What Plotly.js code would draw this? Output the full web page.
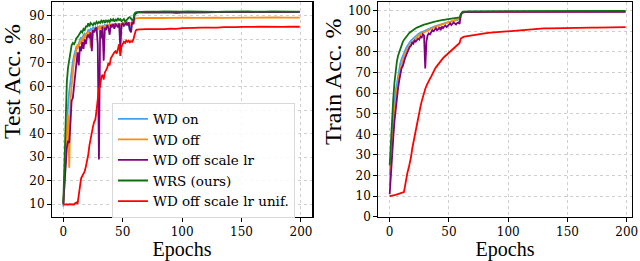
<!DOCTYPE html>
<html>
<head>
<meta charset="utf-8">
<script src="https://cdn.plot.ly/plotly-3.0.1.min.js"></script>
<style>html,body{margin:0;padding:0;background:#fff;}#chart{width:640px;height:261px;}</style>
</head>
<body>
<div id="chart"></div>
<script>
// ---- data ----
const epochs = [0,1,2,3,4,5,6,7,8,9,10,11,12,13,14,15,16,17,18,19,20,21,22,23,24,25,26,27,28,29,30,31,32,33,34,35,36,37,38,39,40,41,42,43,44,45,46,47,48,49,50,51,52,53,54,55,56,57,58,59,60,61,62,63,64,
  65,70,75,80,85,90,95,100,105,110,115,120,125,130,135,140,145,150,155,160,165,170,175,180,185,190,195,199];

const seriesNames = ["WD on", "WD off", "WD off scale lr", "WRS (ours)", "WD off scale lr unif."];
const seriesColors = ["#3fa4f4", "#ff8c0a", "#800080", "#107010", "#ff0000"];

// Test accuracy (%)
const testWDon = [9,20,34,45,52,58,63,67,70.5,73,75,77,76,78.5,80,81,80,82,82.5,81.5,83,84,83.5,84.5,84,85,84.5,85.2,84.6,85.5,85,85.8,84.8,86,85.3,86.2,85.5,86.3,85.6,86.5,85.8,86.6,85.5,86.8,86,86.5,85.8,86.9,83.5,86.5,86.8,86,87,86.2,87.2,86.5,83.8,86.8,87.3,86.8,90.8,91.3,91.4,91.5,91.4,
  91.5,91.4,91.5,91.6,91.5,91.4,91.5,91.3,91.5,91.4,91.3,91.5,91.6,91.5,91.6,91.7,91.6,91.7,91.6,91.7,91.6,91.7,91.6,91.7,91.6,91.7,91.6,91.6];
const testWDoff = [10,18,30,42,48,25.5,54,60,66,71,73,75.5,78,76.5,79.5,78,81,79.5,82,80.5,83,82,83.5,76.5,84,83,84.5,83.5,85,84,85.5,84.2,85.6,84.5,86,85,86.2,85.3,86.4,85.5,86.5,85.6,86.3,85.8,86.6,85.7,86.8,86,86.5,85.5,86.8,86.2,87,86.1,87.1,86.4,87,86.3,87.2,86.5,88.5,89,89.1,89,89.1,
  89.1,89.2,89.1,89.2,89.1,89.2,89.3,89.2,89.3,89.2,89.3,89.2,89.3,89.3,89.2,89.3,89.3,89.2,89.3,89.3,89.4,89.3,89.3,89.4,89.3,89.3,89.4,89.3];
const testScaleLr = [10,17,28,34,37,36,44,54,55,60,67,72,74.5,69,77,75,79,76,80,78,81,82,80.5,83,75,84,83,84.5,85,78,29,84,80.5,85.5,71,85,84,86,85,82,86.2,85.5,86.5,84.5,86.4,86,85.2,86.8,76,86,87,85.8,86.5,87,86,87.3,84,83,87.5,86.5,90.5,91.2,91.4,91.5,91.4,
  91.5,91.6,91.5,91.6,91.5,91.6,91.3,91.5,91.6,91.5,91.6,91.5,91.6,91.7,91.6,91.7,91.6,91.7,91.6,91.7,91.6,91.7,91.6,91.7,91.7,91.6,91.7,91.7];
const testWRS = [10.5,30,50,62,68,72,76,77.5,78.5,78,79,80.5,81,82,83,83.5,83,84.5,84,85.5,85.5,86.8,85.5,87,86.5,86,87,86.5,87.5,86.8,87.5,87,88,87.3,88.2,87,88,87.5,88.3,87.2,88.5,88,88.6,87.6,88.4,88,89,88.2,88.6,87.8,88.2,88.7,87.6,88.3,88.8,89.2,89.5,88.6,88.2,88.6,91,91.5,91.6,91.7,91.6,
  91.7,91.8,91.7,91.8,91.9,91.8,91.7,91.8,91.9,91.8,91.8,91.9,91.8,91.7,91.8,91.9,91.8,91.8,91.9,91.8,91.7,91.8,91.9,91.8,91.8,91.9,91.8,91.8];
const testUnif = [10,9.8,9.9,10,9.8,10,9.9,10.1,10,9.9,10.5,10.8,10.2,14,17,21,22,23,24,26,28,31,35,38,41,43,45,46,50,55,59,60,64,65,63,66,67,68,70,69,72,73,74,74.5,75,74,76,78,73,77,78,79,78.5,79.5,79,79.5,78.8,79.3,79,80,82,83.8,84.2,84.3,84.2,
  84.3,84.4,84.3,84.5,84.4,84.6,84.5,84.8,84.7,84.9,85,84.9,85.1,85,85.2,85.1,85.2,85.3,85.2,85.3,85.4,85.3,85.4,85.4,85.3,85.4,85.5,85.4];

// Train accuracy (%)
const trainWDon = [20,30,40,48,55,61,65,69,72,74.5,76.5,78,79.5,81,82,83,84,84.8,85.5,86.1,86.7,87.2,87.7,88.2,88.6,89,89.3,89.6,89.9,90.2,90.5,90.7,91,91.3,91.5,91.8,92,92.2,92.4,92.6,92.8,93,93.2,93.3,93.5,93.7,93.8,94,94.1,94.3,94.5,94.6,94.7,94.9,95,95.2,95.3,95.5,95.6,95.8,98,99,99.2,99.3,99.4,
  99.4,99.5,99.5,99.6,99.6,99.6,99.6,99.6,99.6,99.6,99.6,99.6,99.6,99.6,99.6,99.6,99.6,99.6,99.6,99.6,99.6,99.6,99.6,99.6,99.6,99.6,99.6,99.6];
const trainWDoff = [15,25,35,43,50,56,61,65,68.5,71.5,74,76,77.5,79,80.5,81.5,82.5,83.3,84,84.8,85.5,86.1,86.7,87.2,87.8,88.3,88.6,89,89.4,89.7,90,90.3,90.5,90.8,91,91.3,91.5,91.8,92,92.3,92.5,92.7,92.9,93.1,93.3,93.5,93.7,93.9,94.1,94.3,94.5,94.7,94.9,95,95.2,95.4,95.6,95.8,96,96.2,98.3,99,99.2,99.3,99.3,
  99.4,99.4,99.5,99.5,99.5,99.5,99.5,99.5,99.5,99.5,99.5,99.5,99.5,99.5,99.5,99.5,99.5,99.5,99.5,99.5,99.5,99.5,99.5,99.5,99.5,99.5,99.5,99.5];
const trainScaleLr = [11,22,32,38,46,52,57,62,66,69,72,73,75.5,77,78.5,80,81,82.5,83,84.5,84,85.5,85,86,86.5,86,87.5,87,88.5,88,72,85,88,89,88.5,89.5,90.5,90,91,91.5,90.5,91,92,90.5,92.3,91.5,92.3,92.8,92,92.8,93.3,93.8,93,93.8,94.3,93.8,93.3,94,94.3,93.6,98,99,99.2,99.3,99.3,
  99.3,99.4,99.4,99.4,99.4,99.4,99.4,99.4,99.4,99.4,99.4,99.4,99.4,99.4,99.4,99.4,99.4,99.4,99.4,99.4,99.4,99.4,99.4,99.4,99.4,99.4,99.4,99.4];
const trainWRS = [25,37,47,57,65,71,75,78,80,82,83.5,84.7,85.8,86.7,87.5,88.2,88.8,89.4,89.9,90.4,90.8,91.2,91.5,91.8,92.1,92.3,92.6,92.8,93,93.2,93.4,93.6,93.7,93.9,94.1,94.3,94.4,94.6,94.7,94.8,95,95.1,95.2,95.3,95.4,95.6,95.6,95.7,95.8,95.9,96,96.1,96.1,96.2,96.3,96.4,96.4,96.5,96.6,96.7,98.2,99.2,99.4,99.5,99.6,
  99.6,99.7,99.7,99.8,99.8,99.8,99.8,99.9,99.8,99.9,99.9,99.9,99.9,99.9,99.9,99.9,99.9,99.9,99.9,99.9,99.9,99.9,99.9,99.9,99.9,99.9,99.9,99.9];
const trainUnif = [10,10.2,10.3,10.4,10.5,10.6,10.8,10.9,11,11.1,11.3,11.5,12,15,19.5,21.5,23.5,26,29,33,36,39,43,46,48.5,51,53.5,56,58.5,60.5,62,63.5,65,66,67,68,69.5,70.5,71.5,72.5,73.3,74.2,75,75.7,76.3,77,77.5,78,78.5,79,79.5,80,80.5,81,81.5,82,82.5,83,83.5,84.3,86.5,87,87.2,87.4,87.5,
  87.6,88.2,88.6,89,89.3,89.6,89.8,90,90.2,90.4,90.7,91,91.2,91.4,91.4,91.5,91.5,91.6,91.6,91.7,91.7,91.8,91.8,91.9,91.8,91.9,91.9,92];

const xTicks = [0, 50, 100, 150, 200];
const testYTicks = [10, 20, 30, 40, 50, 60, 70, 80, 90];
const trainYTicks = [0, 10, 20, 30, 40, 50, 60, 70, 80, 90, 100];
const xTitle = 'Epochs';
const testTitle = 'Test Acc. %';
const trainTitle = 'Train Acc. %';

const testSeries = [testWDon, testWDoff, testScaleLr, testWRS, testUnif];
const trainSeries = [trainWDon, trainWDoff, trainScaleLr, trainWRS, trainUnif];

// ---- traces ----
const traces = [];
testSeries.forEach((ys, i) => {
  traces.push({x: epochs, y: ys, type: 'scatter', mode: 'lines', name: seriesNames[i],
    line: {color: seriesColors[i], width: 1.8}, xaxis: 'x', yaxis: 'y', showlegend: true});
});
trainSeries.forEach((ys, i) => {
  traces.push({x: epochs, y: ys, type: 'scatter', mode: 'lines', name: seriesNames[i],
    line: {color: seriesColors[i], width: 1.8}, xaxis: 'x2', yaxis: 'y2', showlegend: false});
});

const tickFont = {family: 'DejaVu Serif', size: 12, color: '#000'};
const xTitleFont = {family: 'Liberation Serif', size: 20, color: '#000'};
const yTitleFont = {family: 'Liberation Serif', size: 24, color: '#000'};
const axisCommon = {
  showline: true, linecolor: '#000', linewidth: 1.5, mirror: true,
  ticks: 'outside', ticklen: 3.5, tickwidth: 1, tickcolor: '#000',
  showgrid: true, gridcolor: '#cfcfcf', griddash: 'dot', gridwidth: 1,
  zeroline: false, tickfont: tickFont, automargin: false
};

const layout = {
  width: 640, height: 261,
  margin: {l: 0, r: 0, t: 0, b: 0},
  paper_bgcolor: '#fff', plot_bgcolor: '#fff',
  showlegend: true,
  legend: {
    x: 0.175, y: 0.607, xanchor: 'left', yanchor: 'top',
    bgcolor: 'rgba(255,255,255,0.85)', bordercolor: '#d8d8d8', borderwidth: 1,
    font: {family: 'DejaVu Serif', size: 13.5, color: '#000'},
    tracegroupgap: 0
  },
  xaxis: Object.assign({}, axisCommon, {
    domain: [0.08125, 0.4875], range: [-9.5, 209.3],
    tickvals: xTicks, ticktext: xTicks.map(String),
    title: {text: xTitle, font: xTitleFont, standoff: 3}, anchor: 'y'
  }),
  yaxis: Object.assign({}, axisCommon, {
    domain: [0.1686, 0.9923], range: [4.6, 95.9],
    tickvals: testYTicks, ticktext: testYTicks.map(String), anchor: 'x'
  }),
  xaxis2: Object.assign({}, axisCommon, {
    domain: [0.5911, 0.9870], range: [-9.6, 204.2],
    tickvals: xTicks, ticktext: xTicks.map(String),
    title: {text: xTitle, font: xTitleFont, standoff: 3}, anchor: 'y2'
  }),
  yaxis2: Object.assign({}, axisCommon, {
    domain: [0.1686, 0.9923], range: [-0.1, 104.2],
    tickvals: trainYTicks, ticktext: trainYTicks.map(String), anchor: 'x2'
  }),
  annotations: [
    {text: testTitle, xref: 'paper', yref: 'paper', x: 12 / 640, y: (261 - 82) / 261,
     xanchor: 'center', yanchor: 'middle', textangle: -90, showarrow: false, font: yTitleFont},
    {text: trainTitle, xref: 'paper', yref: 'paper', x: 333 / 640, y: (261 - 82) / 261,
     xanchor: 'center', yanchor: 'middle', textangle: -90, showarrow: false, font: yTitleFont}
  ]
};

Plotly.newPlot('chart', traces, layout, {displayModeBar: false, staticPlot: true});
</script>
</body>
</html>
